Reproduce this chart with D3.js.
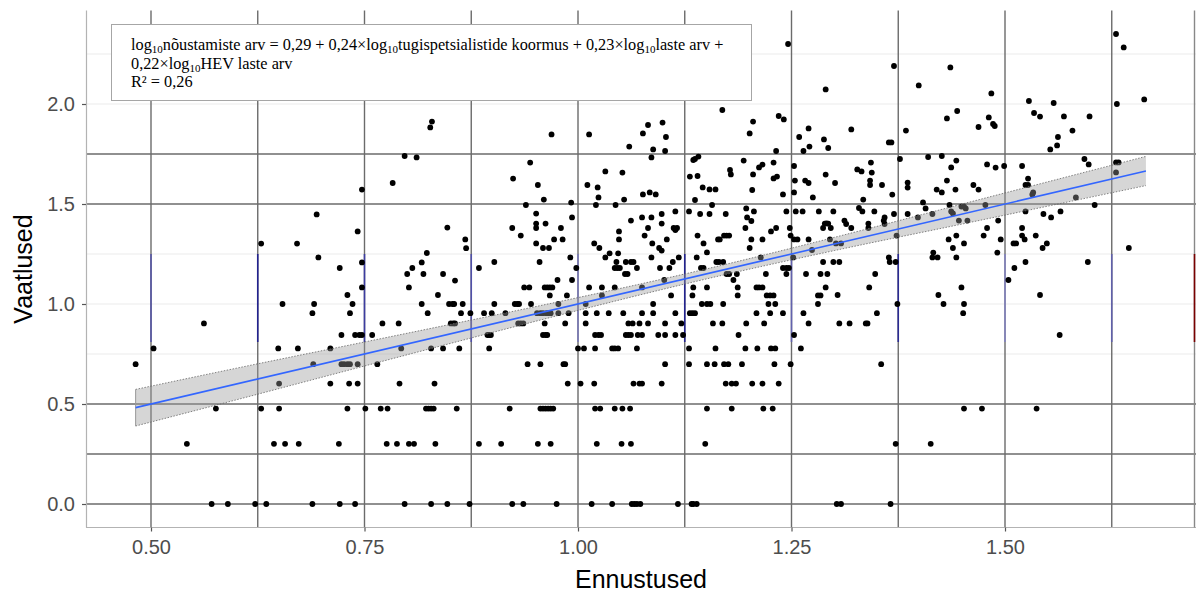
<!DOCTYPE html>
<html>
<head>
<meta charset="utf-8">
<script src="https://cdn.jsdelivr.net/npm/d3@7"></script>
<style>
  html, body { margin: 0; padding: 0; background: #fff; }
  svg { display: block; }
</style>
</head>
<body>
<script>
// Vaadeldud vs ennustatud väärtused (log10 skaalal), lineaarne sobitus koos usalduspiirkonnaga

// Vaadeldud väärtused, mis langevad diskreetsetele tasemetele (log10 täisarvudest)
const alumisedTasemed = [0, 0.301, 0.477, 0.602, 0.699, 0.778, 0.845, 0.903, 0.954, 1.0];
// Ennustatud väärtused iga taseme kohta
const ennustusedTasemel = [
  [0.571, 0.590, 0.622, 0.635, 0.689, 0.721, 0.739, 0.797, 0.828, 0.847, 0.873, 0.923, 0.936, 0.975, 1.016, 1.040, 1.063, 1.066, 1.069, 1.073, 1.117, 1.133, 1.135, 1.139, 1.303, 1.308, 1.366],
  [0.542, 0.644, 0.657, 0.673, 0.720, 0.776, 0.788, 0.802, 0.808, 0.833, 0.884, 0.910, 0.953, 0.968, 1.022, 1.051, 1.062, 1.149, 1.372, 1.413],
  [0.576, 0.629, 0.650, 0.730, 0.751, 0.769, 0.777, 0.822, 0.825, 0.828, 0.831, 0.858, 0.920, 0.956, 0.959, 0.962, 0.965, 0.968, 0.971, 1.020, 1.026, 1.043, 1.052, 1.061, 1.151, 1.180, 1.217, 1.228, 1.452, 1.473, 1.537],
  [0.650, 0.710, 0.732, 0.742, 0.791, 0.832, 0.988, 1.003, 1.019, 1.065, 1.072, 1.075, 1.098, 1.173, 1.180, 1.185, 1.204, 1.216, 1.235],
  [0.482, 0.690, 0.723, 0.726, 0.730, 0.733, 0.742, 0.765, 0.941, 0.956, 0.983, 0.985, 1.102, 1.130, 1.151, 1.160, 1.171, 1.176, 1.192, 1.230, 1.249, 1.355],
  [0.503, 0.649, 0.672, 0.710, 0.793, 0.828, 0.842, 0.861, 0.896, 1.000, 1.007, 1.020, 1.040, 1.043, 1.047, 1.069, 1.130, 1.161, 1.196, 1.210, 1.226, 1.231, 1.261],
  [0.723, 0.739, 0.744, 0.747, 0.759, 0.894, 0.896, 0.898, 0.959, 0.962, 0.964, 1.020, 1.024, 1.027, 1.056, 1.059, 1.062, 1.070, 1.075, 1.094, 1.102, 1.114, 1.123, 1.188, 1.253, 1.564],
  [0.562, 0.771, 0.790, 0.851, 0.854, 0.856, 0.930, 0.933, 0.936, 0.961, 0.985, 1.009, 1.059, 1.064, 1.072, 1.082, 1.102, 1.121, 1.158, 1.169, 1.197, 1.218, 1.270, 1.306, 1.318, 1.337, 1.339],
  [0.689, 0.733, 0.824, 0.863, 0.874, 0.890, 0.899, 0.915, 0.952, 0.956, 0.959, 0.963, 0.966, 0.968, 0.977, 0.989, 1.009, 1.022, 1.036, 1.053, 1.075, 1.088, 1.114, 1.131, 1.134, 1.137, 1.209, 1.225, 1.240, 1.264, 1.350, 1.451],
  [0.654, 0.691, 0.736, 0.817, 0.849, 0.853, 0.855, 0.865, 0.902, 0.926, 0.929, 0.931, 0.945, 0.977, 1.009, 1.088, 1.145, 1.151, 1.155, 1.170, 1.223, 1.231, 1.281, 1.374, 1.428, 1.452]
];

// Punktid, mille vaadeldud väärtus on üle 1 ([ennustus, vaatlus])
const ylemisedPunktid = [
  [0.829,1.912],[0.827,1.883],[0.797,1.740],[0.811,1.733],[0.783,1.605],[0.747,1.572],[0.694,1.448],[0.742,1.363],[0.629,1.302],[0.671,1.302],
  [0.696,1.233],[0.721,1.180],[0.747,1.208],[0.747,1.083],[0.730,1.045],[0.847,1.382],[0.868,1.323],[0.869,1.279],[0.823,1.255],[0.817,1.208],
  [0.806,1.180],[0.800,1.150],[0.819,1.150],[0.842,1.150],[0.856,1.117],[0.802,1.083],[0.836,1.045],
  [1.246,2.300],[1.290,2.073],[0.969,1.848],[1.013,1.848],[1.076,1.853],[1.082,1.895],[1.099,1.907],[1.103,1.835],[1.060,1.787],[1.088,1.773],
  [1.102,1.765],[1.086,1.733],[1.169,1.970],[1.205,1.912],[1.201,1.853],[1.235,1.940],[1.241,1.923],[1.259,1.835],[1.270,1.878],[1.264,1.765],
  [1.271,1.787],[1.288,1.823],[1.293,1.780],[1.232,1.765],
  [0.944,1.707],[0.924,1.627],[0.953,1.595],[0.960,1.522],[0.939,1.495],[0.992,1.507],[0.993,1.433],[0.951,1.452],[0.951,1.402],[0.951,1.380],
  [0.962,1.402],[0.923,1.380],[0.980,1.380],[0.933,1.342],[0.951,1.303],[0.959,1.280],[0.966,1.280],[0.972,1.323],[0.982,1.323],[0.884,1.180],
  [0.902,1.210],[0.955,1.210],[0.991,1.233],[0.998,1.180],[0.937,1.083],[0.943,1.083],[0.961,1.083],[0.964,1.083],[0.967,1.083],[0.970,1.083],
  [0.976,1.120],[0.993,1.120],[0.967,1.043],[0.987,1.043],[1.013,1.083],[1.028,1.083],[1.043,1.083],[1.028,1.043],[1.075,1.083],
  [1.011,1.595],[1.023,1.583],[1.024,1.533],[1.021,1.495],[1.032,1.663],[1.052,1.657],[1.054,1.522],[1.044,1.495],[1.076,1.548],[1.084,1.558],
  [1.091,1.548],[1.062,1.417],[1.075,1.433],[1.086,1.433],[1.098,1.450],[1.114,1.463],[1.098,1.402],[1.082,1.380],[1.112,1.380],[1.116,1.380],
  [1.114,1.370],[1.048,1.363],[1.048,1.323],[1.078,1.342],[1.087,1.303],[1.104,1.323],[1.019,1.303],[1.025,1.280],[1.032,1.233],[1.037,1.253],
  [1.047,1.253],[1.045,1.210],[1.056,1.210],[1.062,1.210],[1.065,1.210],[1.043,1.180],[1.046,1.180],[1.049,1.180],[1.069,1.180],[1.055,1.150],
  [1.058,1.150],[1.086,1.233],[1.095,1.280],[1.098,1.267],[1.118,1.233],[1.096,1.180],[1.107,1.180],[1.111,1.210],[1.101,1.120],[1.109,1.043],
  [1.130,1.463],[1.143,1.450],[1.154,1.450],[1.173,1.450],[1.131,1.637],[1.140,1.640],[1.137,1.520],[1.135,1.720],[1.137,1.725],[1.141,1.737],
  [1.146,1.583],[1.154,1.573],[1.161,1.573],[1.157,1.495],[1.147,1.303],[1.140,1.342],[1.164,1.323],[1.166,1.323],[1.171,1.342],[1.174,1.342],
  [1.177,1.342],[1.151,1.258],[1.139,1.233],[1.162,1.210],[1.165,1.210],[1.170,1.210],[1.144,1.180],[1.147,1.180],[1.174,1.150],[1.135,1.083],
  [1.151,1.083],[1.134,1.043],
  [1.178,1.670],[1.179,1.648],[1.194,1.717],[1.212,1.683],[1.216,1.697],[1.205,1.648],[1.229,1.707],[1.229,1.628],[1.233,1.637],[1.204,1.570],
  [1.240,1.548],[1.197,1.478],[1.198,1.433],[1.203,1.415],[1.206,1.463],[1.196,1.380],[1.203,1.323],[1.216,1.323],[1.201,1.280],[1.226,1.363],
  [1.232,1.380],[1.248,1.380],[1.244,1.463],[1.253,1.690],[1.254,1.617],[1.253,1.558],[1.266,1.617],[1.270,1.605],[1.275,1.533],[1.255,1.463],
  [1.263,1.463],[1.282,1.463],[1.253,1.323],[1.257,1.323],[1.270,1.323],[1.249,1.342],[1.287,1.380],[1.291,1.403],[1.220,1.150],[1.240,1.180],
  [1.244,1.180],[1.247,1.180],[1.244,1.150],[1.267,1.150],[1.284,1.150],[1.209,1.083],[1.212,1.083],[1.216,1.083],[1.221,1.043],[1.225,1.043],
  [1.229,1.043],[1.281,1.043],[1.284,1.043],[1.177,1.150],[1.186,1.150],[1.182,1.120],[1.187,1.083],[1.187,1.043],[1.214,1.233],[1.252,1.233],
  [1.274,1.270],
  [1.630,2.350],[1.639,2.283],[1.663,2.023],[1.631,2.000],[1.370,2.190],[1.436,2.183],[1.399,2.093],[1.484,2.053],[1.528,2.015],[1.557,2.005],
  [1.444,1.965],[1.432,1.928],[1.481,1.933],[1.486,1.900],[1.488,1.890],[1.534,1.955],[1.541,1.937],[1.569,1.938],[1.599,1.938],[1.469,1.885],
  [1.579,1.867],[1.562,1.835],[1.561,1.793],[1.553,1.773],[1.384,1.867],[1.320,1.873],[1.364,1.808],[1.367,1.808],[1.377,1.725],[1.410,1.735],
  [1.426,1.740],[1.443,1.717],[1.437,1.683],[1.479,1.698],[1.489,1.682],[1.499,1.690],[1.520,1.690],[1.593,1.725],[1.598,1.698],[1.630,1.708],
  [1.633,1.708],[1.630,1.658],[1.290,1.647],[1.301,1.605],[1.327,1.673],[1.332,1.663],[1.343,1.707],[1.344,1.657],[1.342,1.617],[1.342,1.595],
  [1.356,1.595],[1.368,1.547],[1.386,1.607],[1.386,1.582],[1.432,1.617],[1.420,1.572],[1.426,1.558],[1.442,1.572],[1.463,1.595],[1.469,1.572],
  [1.527,1.627],[1.524,1.595],[1.527,1.595],[1.533,1.558],[1.532,1.548],[1.334,1.522],[1.299,1.463],[1.329,1.480],[1.333,1.463],[1.347,1.463],
  [1.370,1.450],[1.386,1.450],[1.404,1.508],[1.407,1.478],[1.435,1.495],[1.437,1.463],[1.439,1.453],[1.449,1.487],[1.452,1.487],[1.454,1.478],
  [1.477,1.495],[1.524,1.463],[1.545,1.450],[1.554,1.433],[1.565,1.463],[1.583,1.533],[1.605,1.495],[1.289,1.402],[1.293,1.402],[1.296,1.380],
  [1.312,1.417],[1.314,1.400],[1.320,1.380],[1.340,1.402],[1.340,1.380],[1.358,1.417],[1.359,1.433],[1.359,1.400],[1.398,1.433],[1.415,1.450],
  [1.446,1.417],[1.456,1.417],[1.479,1.380],[1.475,1.342],[1.492,1.417],[1.495,1.323],[1.491,1.257],[1.434,1.323],[1.443,1.342],[1.439,1.280],
  [1.452,1.303],[1.416,1.257],[1.415,1.233],[1.421,1.233],[1.443,1.233],[1.373,1.342],[1.364,1.233],[1.365,1.210],[1.372,1.210],[1.348,1.150],
  [1.341,1.083],[1.287,1.210],[1.299,1.210],[1.306,1.210],[1.292,1.150],[1.290,1.083],[1.304,1.045],[1.295,1.323],[1.302,1.303],[1.308,1.303],
  [1.422,1.045],[1.449,1.083],[1.510,1.303],[1.513,1.303],[1.520,1.342],[1.523,1.323],[1.520,1.380],[1.536,1.342],[1.544,1.280],[1.549,1.303],
  [1.511,1.180],[1.524,1.210],[1.504,1.120],[1.541,1.045],[1.597,1.210],[1.645,1.280]
];

// Sobitatud joon ja 95% usalduspiirkond
const sobitusX = [0.482, 1.665];
const sobitusY = [0.482, 1.665];
const vooX = [0.482, 0.60, 0.75, 0.90, 1.00, 1.14, 1.30, 1.45, 1.665];
const vooAlumine = [0.390, 0.521, 0.690, 0.858, 0.968, 1.115, 1.267, 1.400, 1.592];
const vooYlemine = [0.573, 0.679, 0.810, 0.942, 1.032, 1.165, 1.333, 1.500, 1.738];

// Teljed ja ruudustik
const xTicks = [0.5, 0.75, 1.0, 1.25, 1.5];
const yTicks = [0, 0.5, 1.0, 1.5, 2.0];
const tumedadHorisontaalid = [0, 0.25, 0.5, 1.5, 1.75];
const heledadHorisontaalid = [0.75, 1.0, 1.25, 2.0, 2.25];
const vertikaalid = [0.5, 0.625, 0.75, 0.875, 1.0, 1.125, 1.25, 1.375, 1.5, 1.625];
const vertikaaliVarvid = ["#5656a6", "#22228f", "#3c3ca0", "#5050a8", "#7a7ab8", "#22228f", "#6262ae", "#2a2a92", "#8484c0", "#6060aa"];
const loiguVahemik = [0.81, 1.25];

const W = 1196, H = 594;
const panel = { left: 86, right: 1196, top: 10.5, bottom: 527.5 };

const x = d3.scaleLinear().domain([0.42389, 1.72365]).range([panel.left, panel.right]);
const y = d3.scaleLinear().domain([-0.1175, 2.4675]).range([panel.bottom, panel.top]);

const svg = d3.select("body").append("svg").attr("width", W).attr("height", H);
svg.append("rect").attr("width", W).attr("height", H).attr("fill", "#fff");

const grid = svg.append("g");
grid.selectAll("line.hl").data(heledadHorisontaalid).join("line")
  .attr("x1", panel.left).attr("x2", panel.right)
  .attr("y1", d => y(d)).attr("y2", d => y(d))
  .attr("stroke", "#ebebeb").attr("stroke-width", 1.1);
grid.selectAll("line.hd").data(tumedadHorisontaalid).join("line")
  .attr("x1", panel.left).attr("x2", panel.right)
  .attr("y1", d => y(d)).attr("y2", d => y(d))
  .attr("stroke", "#6b6b6b").attr("stroke-width", 1.5);
grid.selectAll("line.v").data(vertikaalid).join("line")
  .attr("x1", d => x(d)).attr("x2", d => x(d))
  .attr("y1", panel.top).attr("y2", panel.bottom)
  .attr("stroke", "#6b6b6b").attr("stroke-width", 1.4);
grid.selectAll("line.vs").data(vertikaalid).join("line")
  .attr("x1", d => x(d)).attr("x2", d => x(d))
  .attr("y1", y(loiguVahemik[1])).attr("y2", y(loiguVahemik[0]))
  .attr("stroke", (d, i) => vertikaaliVarvid[i]).attr("stroke-width", 1.6);

// Paneeli ääred
svg.append("line").attr("x1", panel.left + 0.5).attr("x2", panel.left + 0.5)
  .attr("y1", panel.top).attr("y2", panel.bottom).attr("stroke", "#b3b3b3").attr("stroke-width", 1.2);
svg.append("line").attr("x1", panel.left).attr("x2", panel.right)
  .attr("y1", panel.bottom).attr("y2", panel.bottom).attr("stroke", "#b3b3b3").attr("stroke-width", 1.2);
svg.append("line").attr("x1", panel.right - 1.5).attr("x2", panel.right - 1.5)
  .attr("y1", panel.top).attr("y2", panel.bottom).attr("stroke", "#888").attr("stroke-width", 1.4);
svg.append("line").attr("x1", panel.right - 1.5).attr("x2", panel.right - 1.5)
  .attr("y1", y(loiguVahemik[1])).attr("y2", y(loiguVahemik[0])).attr("stroke", "#7a0000").attr("stroke-width", 1.6);

// Punktid
const punktid = [];
alumisedTasemed.forEach((lvl, i) => ennustusedTasemel[i].forEach(e => punktid.push([e, lvl])));
ylemisedPunktid.forEach(p => punktid.push(p));

svg.append("g").selectAll("circle").data(punktid).join("circle")
  .attr("cx", d => x(d[0])).attr("cy", d => y(d[1])).attr("r", 2.9).attr("fill", "#000");

// Usalduspiirkond
const vooData = vooX.map((v, i) => ({ x: v, lo: vooAlumine[i], hi: vooYlemine[i] }));
const area = d3.area().x(d => x(d.x)).y0(d => y(d.lo)).y1(d => y(d.hi)).curve(d3.curveMonotoneX);
svg.append("path").datum(vooData).attr("d", area).attr("fill", "#999999").attr("fill-opacity", 0.4);
const lineHi = d3.line().x(d => x(d.x)).y(d => y(d.hi)).curve(d3.curveMonotoneX);
const lineLo = d3.line().x(d => x(d.x)).y(d => y(d.lo)).curve(d3.curveMonotoneX);
svg.append("path").datum(vooData).attr("d", lineHi).attr("fill", "none")
  .attr("stroke", "#666").attr("stroke-width", 0.8).attr("stroke-dasharray", "1.5,1.5");
svg.append("path").datum(vooData).attr("d", lineLo).attr("fill", "none")
  .attr("stroke", "#666").attr("stroke-width", 0.8).attr("stroke-dasharray", "1.5,1.5");
svg.append("line").attr("x1", x(vooX[0])).attr("x2", x(vooX[0]))
  .attr("y1", y(vooAlumine[0])).attr("y2", y(vooYlemine[0])).attr("stroke", "#999").attr("stroke-width", 1);

// Regressioonijoon
svg.append("path").datum(sobitusX.map((v, i) => [v, sobitusY[i]]))
  .attr("d", d3.line().x(d => x(d[0])).y(d => y(d[1])))
  .attr("stroke", "#3366FF").attr("stroke-width", 1.6).attr("fill", "none");

// Teljed
const fontAxis = "'Liberation Sans', Arial, sans-serif";
const yAxis = svg.append("g").attr("transform", `translate(${panel.left},0)`)
  .call(d3.axisLeft(y).tickValues(yTicks).tickFormat(d3.format(".1f")).tickSize(4).tickPadding(7));
const xAxis = svg.append("g").attr("transform", `translate(0,${panel.bottom})`)
  .call(d3.axisBottom(x).tickValues(xTicks).tickFormat(d3.format(".2f")).tickSize(4).tickPadding(8));
[xAxis, yAxis].forEach(a => {
  a.select(".domain").remove();
  a.selectAll(".tick line").attr("stroke", "#555").attr("stroke-width", 1.2);
  a.selectAll(".tick text").attr("fill", "#4d4d4d").style("font-family", fontAxis).style("font-size", "20px");
});

svg.append("text").attr("x", (panel.left + panel.right) / 2).attr("y", 588)
  .attr("text-anchor", "middle").style("font-family", fontAxis).style("font-size", "25px").attr("fill", "#000")
  .text("Ennustused");
svg.append("text").attr("transform", `translate(32,${(panel.top + panel.bottom) / 2}) rotate(-90)`)
  .attr("text-anchor", "middle").style("font-family", fontAxis).style("font-size", "25px").attr("fill", "#000")
  .text("Vaatlused");

// Mudeli võrrand
const box = svg.append("g");
box.append("rect").attr("x", 111.5).attr("y", 24.5).attr("width", 640).attr("height", 76)
  .attr("fill", "#fff").attr("stroke", "#a6a6a6").attr("stroke-width", 1);
const serif = "'Liberation Serif', 'Times New Roman', serif";
const read = [
  [["log", 0], ["10", 1], ["nõustamiste arv = 0,29 + 0,24×log", 0], ["10", 1], ["tugispetsialistide koormus + 0,23×log", 0], ["10", 1], ["laste arv +", 0]],
  [["0,22×log", 0], ["10", 1], ["HEV laste arv", 0]],
  [["R² = 0,26", 0]]
];
read.forEach((parts, i) => {
  const t = box.append("text").attr("x", 131).attr("y", 50 + i * 18.5)
    .style("font-family", serif).style("font-size", "16.3px").attr("fill", "#000");
  parts.forEach(([s, sub]) => {
    const ts = t.append("tspan").text(s);
    if (sub) ts.style("font-size", "11px").attr("dy", 3);
    else if (t.selectAll("tspan").size() > 1) ts.attr("dy", -3);
  });
});
</script>
</body>
</html>
